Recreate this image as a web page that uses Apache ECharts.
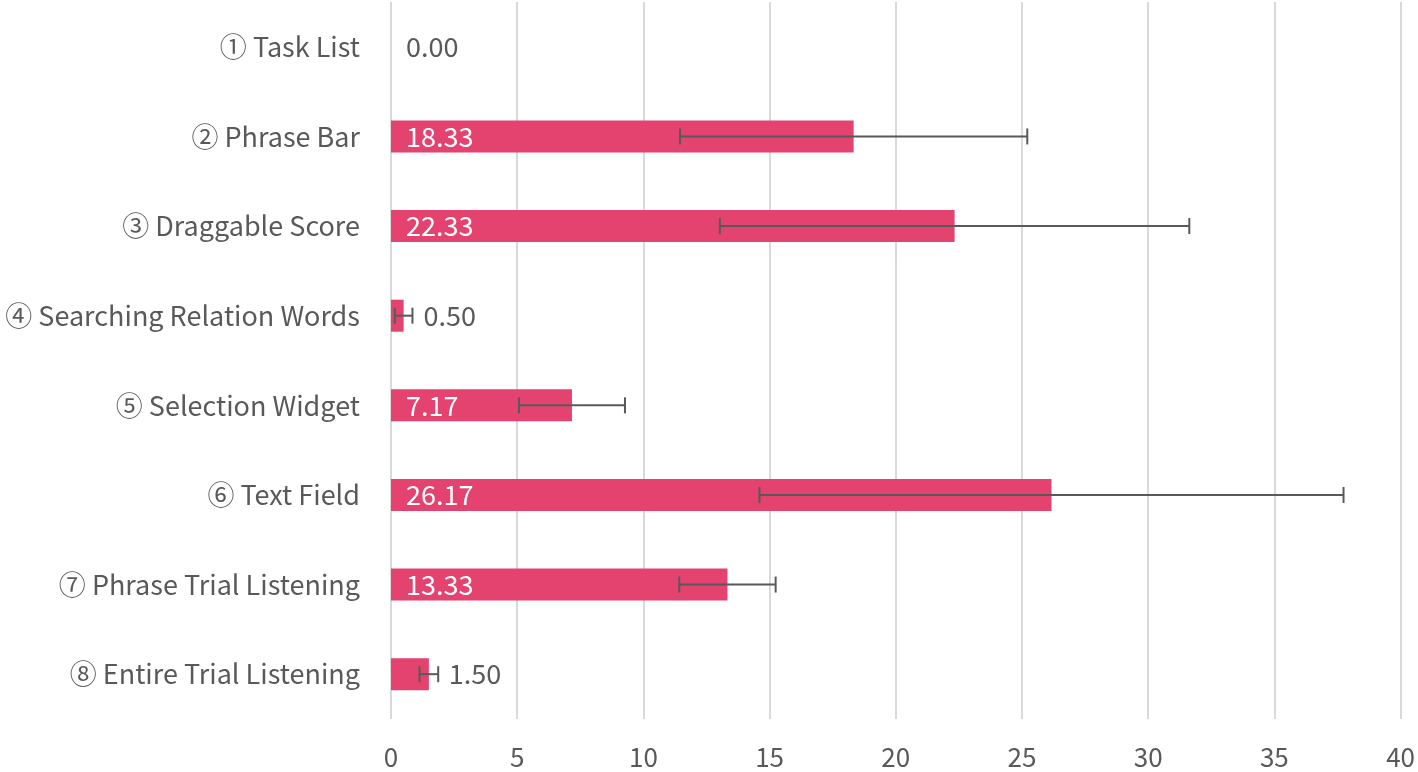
<!DOCTYPE html>
<html><head><meta charset="utf-8">
<script src="https://cdn.jsdelivr.net/npm/echarts@6/dist/echarts.min.js"></script>
<style>html,body{margin:0;padding:0;background:#fff}#c{width:1418px;height:772px}</style>
</head><body><div id="c"></div>
<script>
const categories = ['① Task List','② Phrase Bar','③ Draggable Score','④ Searching Relation Words','⑤ Selection Widget','⑥ Text Field','⑦ Phrase Trial Listening','⑧ Entire Trial Listening'];
const means = [0.00, 18.33, 22.33, 0.50, 7.17, 26.17, 13.33, 1.50];
const errors = [0, 6.88, 9.3, 0.35, 2.1, 11.57, 1.91, 0.37];
const xTicks = [0,5,10,15,20,25,30,35,40];

const FONT = '"Noto Sans CJK JP", "Noto Sans", sans-serif';
const TXT = '#595959';
const insideThreshold = 5;

const barData = means.map((v,i)=>({
  value: v,
  label: v >= insideThreshold
    ? {position:'insideLeft', distance:15, color:'#ffffff'}
    : {position:'right', distance: v===0 ? 15 : 20, color:TXT}
}));
const errData = means.map((v,i)=>[i, v-errors[i], v+errors[i]]).filter((d,i)=>errors[i]>0);

const chart = echarts.init(document.getElementById('c'), null, {renderer:'canvas'});
chart.setOption({
  animation:false,
  grid:{left:391, right:16, top:2, bottom:53},
  xAxis:{type:'value', min:0, max:40, interval:5,
    axisLine:{show:false}, axisTick:{show:false},
    splitLine:{show:true, lineStyle:{color:'#d9d9d9', width:2}},
    axisLabel:{color:TXT, fontSize:26, fontFamily:FONT, margin:25,
      formatter:(v)=>xTicks.includes(v)?String(v):''}},
  yAxis:{type:'category', data:categories, inverse:true,
    axisLine:{show:false}, axisTick:{show:false},
    axisLabel:{color:TXT, fontSize:27, fontFamily:FONT, margin:31}},
  series:[
    {type:'bar', data:barData, barWidth:32, itemStyle:{color:'#E4436F'},
     label:{show:true, fontSize:27, fontFamily:FONT, formatter:(p)=>p.value.toFixed(2)}},
    {type:'custom', data:errData, encode:{y:0, x:[1,2]}, z:5,
     renderItem:(params, api)=>{
       const idx = api.value(0);
       const lo = api.coord([api.value(1), idx]);
       const hi = api.coord([api.value(2), idx]);
       const h = 8;
       const st = {stroke:'#595959', lineWidth:2};
       return {type:'group', children:[
         {type:'line', shape:{x1:lo[0], y1:lo[1], x2:hi[0], y2:hi[1]}, style:st},
         {type:'line', shape:{x1:lo[0], y1:lo[1]-h, x2:lo[0], y2:lo[1]+h}, style:st},
         {type:'line', shape:{x1:hi[0], y1:hi[1]-h, x2:hi[0], y2:hi[1]+h}, style:st}
       ]};
     }}
  ]
});
</script></body></html>
